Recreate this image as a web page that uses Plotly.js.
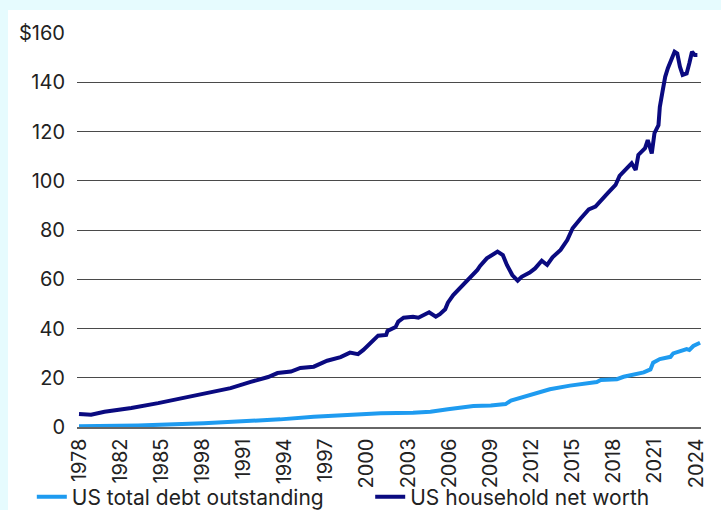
<!DOCTYPE html>
<html>
<head>
<meta charset="utf-8">
<script src="https://cdn.plot.ly/plotly-3.0.1.min.js"></script>
<style>
  html, body { margin: 0; padding: 0; background: #e6fbfe; }
  #chart { position: absolute; left: 8px; top: 10px; width: 713px; height: 500px; background: #ffffff; }
</style>
</head>
<body>
<div id="chart"></div>
<script>
// Axis tick labels (evenly spaced in the original, as printed)
const tickLabels = ['1978','1982','1985','1998','1991','1994','1997','2000','2003','2006','2009','2012','2015','2018','2021','2024'];
const yTickVals = [0, 20, 40, 60, 80, 100, 120, 140, 160];
const yTickText = ['0', '20', '40', '60', '80', '100', '120', '140', '$160'];

// US household net worth ($ trillions), position on the evenly spaced time axis
const netWorthX = [1978.0, 1978.9, 1979.9, 1981.9, 1983.9, 1985.8, 1987.8, 1989.3, 1990.8, 1992.1, 1992.8, 1993.8,
  1994.5, 1995.5, 1996.5, 1997.5, 1998.2, 1998.8, 1999.2, 1999.7, 2000.3, 2000.9, 2001.0, 2001.6, 2001.8,
  2002.2, 2002.9, 2003.3, 2003.7, 2004.1, 2004.6, 2004.9, 2005.3, 2005.5, 2005.9, 2006.4, 2007.0, 2007.7,
  2007.9, 2008.4, 2009.2, 2009.6, 2009.9, 2010.3, 2010.7, 2011.0, 2011.6, 2012.0, 2012.5, 2012.9, 2013.3,
  2013.9, 2014.4, 2014.8, 2015.4, 2016.0, 2016.5, 2017.0, 2017.4, 2018.0, 2018.3, 2018.6, 2019.2, 2019.5,
  2019.7, 2020.2, 2020.4, 2020.7, 2020.9, 2021.2, 2021.3, 2021.5, 2021.7, 2021.9, 2022.2, 2022.4, 2022.6,
  2022.8, 2023.0, 2023.3, 2023.5, 2023.7, 2023.9, 2024.1];
const netWorth = [5.3, 5.0, 6.2, 7.7, 9.7, 11.8, 13.8, 15.8, 18.3, 20.3, 21.9, 22.5,
  24.0, 24.5, 26.9, 28.4, 30.2, 29.6, 31.3, 34.2, 37.1, 37.4, 39.0, 40.6, 42.8,
  44.4, 44.8, 44.4, 45.5, 46.6, 44.8, 45.8, 47.8, 50.5, 53.6, 56.3, 59.7, 63.8,
  65.4, 68.5, 71.2, 69.8, 65.8, 61.7, 59.4, 61.0, 62.7, 64.4, 67.5, 65.8, 68.9,
  71.9, 75.9, 80.7, 84.7, 88.4, 89.5, 92.2, 94.9, 98.3, 102.0, 103.7, 107.1, 104.4,
  110.5, 113.2, 116.5, 111.1, 119.3, 122.6, 130.0, 136.2, 142.2, 145.7, 149.7, 152.4, 151.7,
  146.3, 143.0, 143.6, 147.7, 152.4, 151.1, 151.1];

// US total debt outstanding ($ trillions)
const debtX = [1978.0, 1982.4, 1987.3, 1991.0, 1993.0, 1995.5, 1998.0, 2000.5, 2002.9, 2004.2, 2005.5, 2007.4,
  2008.7, 2009.8, 2010.2, 2011.9, 2013.1, 2014.6, 2016.6, 2016.9, 2018.1, 2018.6, 2019.6, 2020.1, 2020.6,
  2020.8, 2021.3, 2022.1, 2022.3, 2023.3, 2023.5, 2023.8, 2024.3];
const debt = [0.3, 0.6, 1.5, 2.4, 3.1, 4.2, 4.9, 5.6, 5.8, 6.2, 7.2, 8.5,
  8.7, 9.3, 10.7, 13.4, 15.3, 16.8, 18.3, 19.1, 19.4, 20.4, 21.8, 22.2, 23.4,
  26.1, 27.6, 28.5, 29.9, 31.6, 31.3, 32.9, 34.2];

const startYear = 1978, endYear = 2024;
const tickVals = tickLabels.map((_, i) => startYear + i * (endYear - startYear) / (tickLabels.length - 1));

const FONT = 'Inter, "Noto Sans", sans-serif';
const TXT = '#222222';

const traces = [
  { x: debtX, y: debt, type: 'scatter', mode: 'lines', name: 'US total debt outstanding',
    line: { color: '#1e9bf0', width: 4 }, legend: 'legend' },
  { x: netWorthX, y: netWorth, type: 'scatter', mode: 'lines', name: 'US household net worth',
    line: { color: '#0a0a80', width: 4 }, legend: 'legend2' }
];

const legendBase = {
  orientation: 'h', xref: 'container', yref: 'container',
  y: 0.026, xanchor: 'left', yanchor: 'middle',
  font: { family: FONT, size: 21, color: TXT },
  bgcolor: 'rgba(0,0,0,0)', borderwidth: 0
};

const layout = {
  width: 713, height: 500,
  paper_bgcolor: '#ffffff', plot_bgcolor: '#ffffff',
  margin: { l: 69, r: 20, t: 23, b: 83 },
  font: { family: FONT, size: 20, color: TXT },
  showlegend: true,
  legend: Object.assign({}, legendBase, { x: 0.0334 }),
  legend2: Object.assign({}, legendBase, { x: 0.508 }),
  xaxis: {
    range: [1977.85, 2024.37],
    tickmode: 'array', tickvals: tickVals, ticktext: tickLabels,
    tickangle: -90,
    showgrid: false, zeroline: false,
    showline: true, linecolor: '#666666', linewidth: 1.5,
    ticks: '', ticklabelstandoff: 2,
    tickfont: { family: FONT, size: 20, color: TXT },
    fixedrange: true
  },
  yaxis: {
    range: [0, 160],
    tickmode: 'array', tickvals: yTickVals, ticktext: yTickText,
    showgrid: true, gridcolor: '#4a4a4a', gridwidth: 1,
    zeroline: false, showline: false,
    ticks: '', ticklabelstandoff: 11,
    tickfont: { family: FONT, size: 20, color: TXT },
    fixedrange: true
  }
};

Plotly.newPlot('chart', traces, layout, { displayModeBar: false, staticPlot: true });
</script>
</body>
</html>
